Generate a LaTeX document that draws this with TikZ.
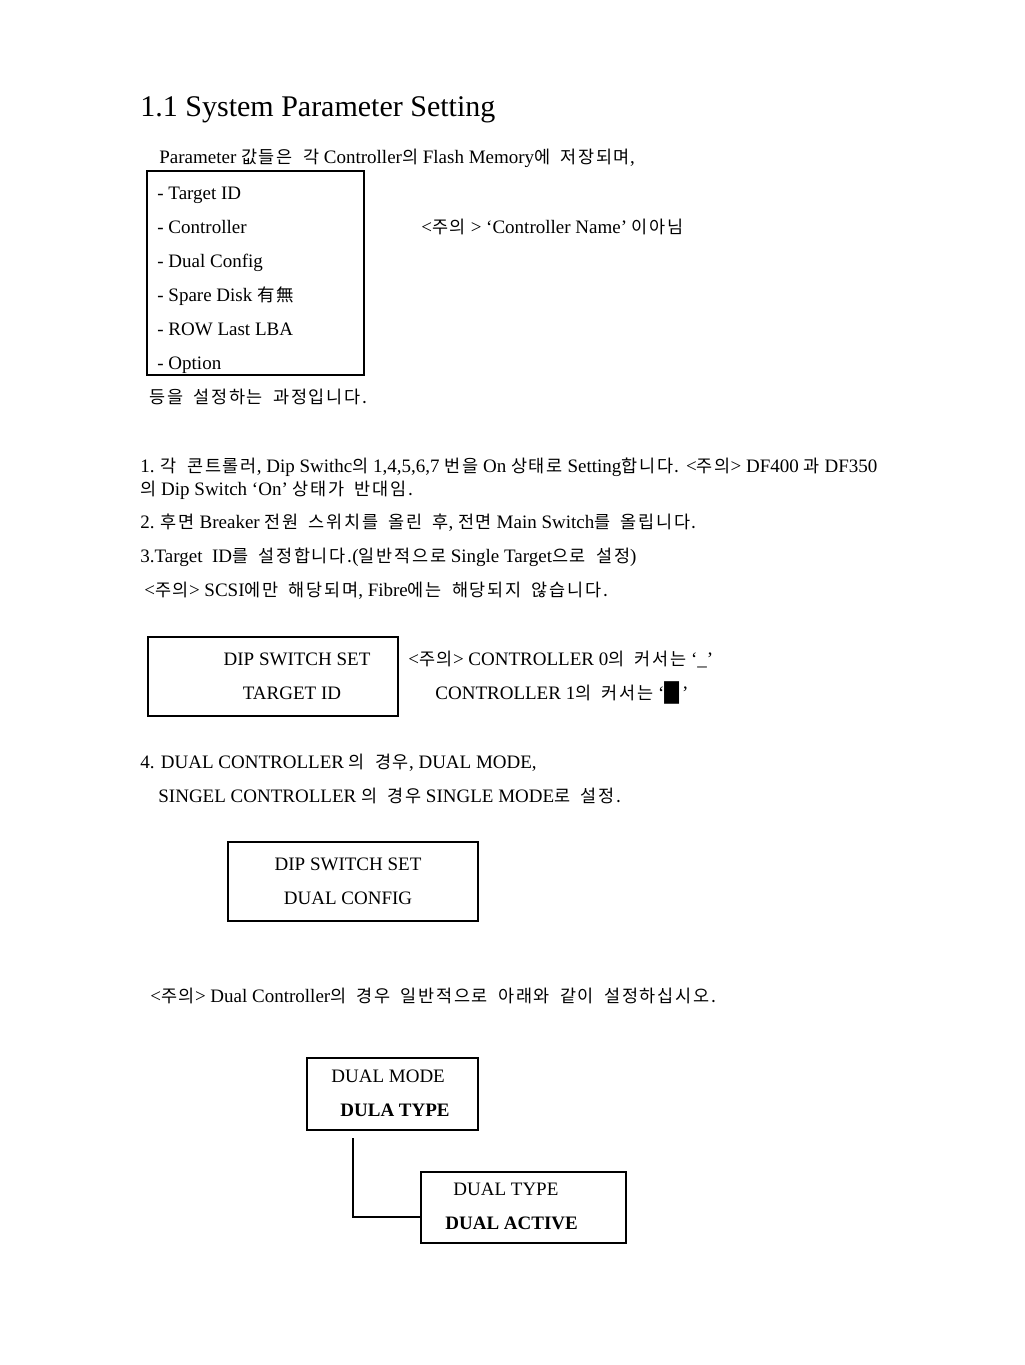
\documentclass[tikz,border=0pt]{standalone}
\usepackage{fontspec}
\setmainfont{Liberation Serif}
\newfontfamily\krfont[Scale=0.92, LetterSpace=10, WordSpace=1.8]{Noto Sans CJK KR}
\newfontfamily\blkfont{DejaVu Sans}
\newcommand{\kor}[1]{{\krfont #1}}
\usetikzlibrary{positioning, fit}

\begin{document}
\begin{tikzpicture}[x=0.5pt, y=-0.5pt, font=\fontsize{9.5}{11}\selectfont,
        every node/.style={inner sep=0pt},
        txt/.style={anchor=base west},
        boxtxt/.style={anchor=base},
        box/.style={draw, line width=0.7pt, inner sep=0pt},
        link/.style={line width=0.7pt}]
        \useasboundingbox (0,0) rectangle (1024,1365);

        % heading
        \node[txt, font=\fontsize{15}{18}\selectfont] (title) at (140,116) {1.1 System Parameter Setting};
        \node[txt] (intro) at (159,163) {Parameter \kor{값들은 각} Controller\kor{의} Flash Memory\kor{에 저장되며},};

        % parameter list
        \node[box, fit={(147,171) (364,375)}] (plist) {};
        \node[txt] (p1) at (157,199) {- Target ID};
        \node[txt] (p2) at (157,233) {- Controller};
        \node[txt] (p3) at (157,267) {- Dual Config};
        \node[txt] (p4) at (157,301) {- Spare Disk \kor{有無}};
        \node[txt] (p5) at (157,335) {- ROW Last LBA};
        \node[txt] (p6) at (157,369) {- Option};
        \node[txt] (name) at (421,233) {<\kor{주의} > ‘Controller Name’ \kor{이아님}};
        \node[txt] (outro) at (149,403) {\kor{등을 설정하는 과정입니다.}};

        % steps
        \node[txt] (s1a) at (140,472) {1. \kor{각 콘트롤러}, Dip Swithc\kor{의} 1,4,5,6,7 \kor{번을} On \kor{상태로} Setting\kor{합니다.} <\kor{주의}> DF400 \kor{과} DF350};
        \node[txt] (s1b) at (140,495) {\kor{의} Dip Switch ‘On’ \kor{상태가 반대임.}};
        \node[txt] (s2) at (140,528) {2. \kor{후면} Breaker \kor{전원 스위치를 올린 후}, \kor{전면} Main Switch\kor{를 올립니다.}};
        \node[txt] (s3) at (140,562) {3.Target\ \ ID\kor{를 설정합니다.}(\kor{일반적으로} Single Target\kor{으로 설정})};
        \node[txt] (scsi) at (144,596) {<\kor{주의}> SCSI\kor{에만 해당되며}, Fibre\kor{에는 해당되지 않습니다.}};

        % target id switch
        \node[box, fit={(148,637) (398,716)}] (tid) {};
        \node[boxtxt] (tid1) at (297,665) {DIP SWITCH SET};
        \node[boxtxt] (tid2) at (292,699) {TARGET ID};
        \node[txt] (cur0) at (408,665) {<\kor{주의}> CONTROLLER 0\kor{의 커서는} ‘\_’};
        \node[txt] (cur1) at (435,699) {CONTROLLER 1\kor{의 커서는} ‘{\blkfont █}\,’};

        \node[txt] (s4a) at (140,768) {4. DUAL CONTROLLER \kor{의 경우}, DUAL MODE,};
        \node[txt] (s4b) at (158,802) {SINGEL CONTROLLER \kor{의 경우} SINGLE MODE\kor{로 설정.}};

        % dual config switch
        \node[box, fit={(228,842) (478,921)}] (dcfg) {};
        \node[boxtxt] (dcfg1) at (348,870) {DIP SWITCH SET};
        \node[boxtxt] (dcfg2) at (348,904) {DUAL CONFIG};

        \node[txt] (dual) at (150,1002) {<\kor{주의}> Dual Controller\kor{의 경우 일반적으로 아래와 같이 설정하십시오.}};

        % dual mode / type
        \node[box, fit={(307,1058) (478,1130)}] (mode) {};
        \node[txt] (mode1) at (331,1082) {DUAL MODE};
        \node[txt, font=\fontsize{9.5}{11}\selectfont\bfseries] (mode2) at (340,1116) {DULA TYPE};
        \node[box, fit={(421,1172) (626,1243)}] (type) {};
        \node[txt] (type1) at (453,1195) {DUAL TYPE};
        \node[txt, font=\fontsize{9.5}{11}\selectfont\bfseries] (type2) at (445,1229) {DUAL ACTIVE};

        \coordinate (drop) at (353,1138);
        \draw[link] (drop) |- ([yshift=-4.75pt]type.west);
    \end{tikzpicture}
\end{document}
